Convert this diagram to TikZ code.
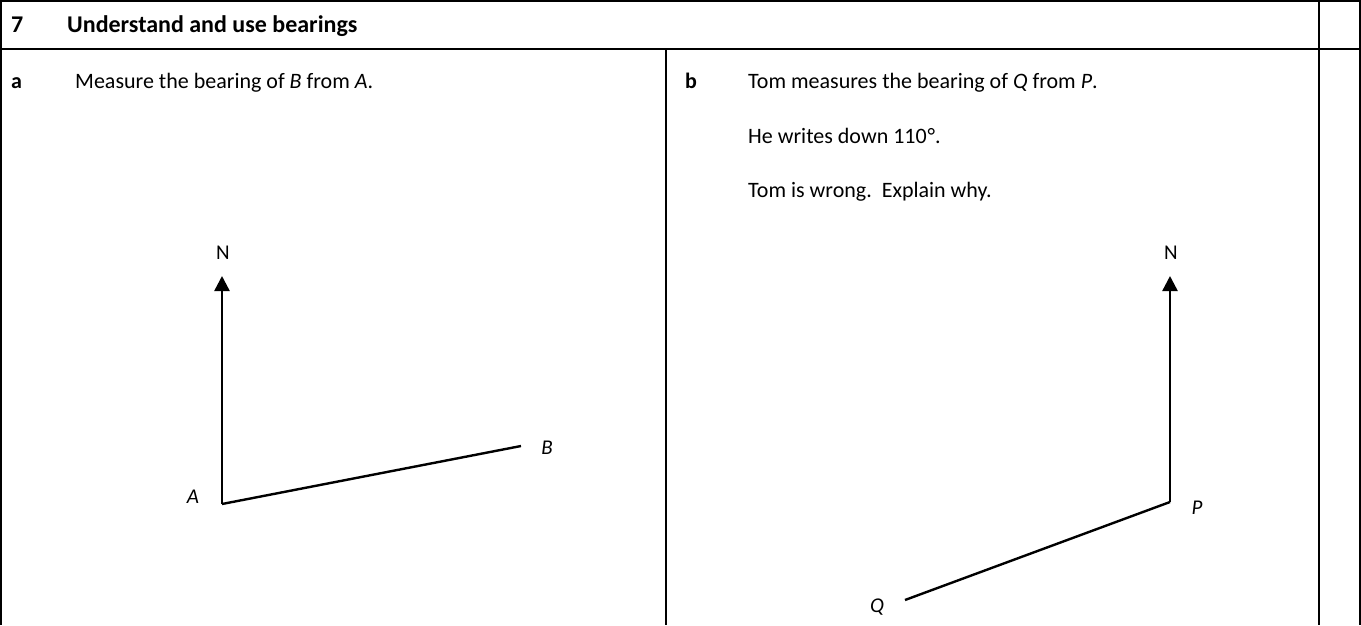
\documentclass[tikz,border=0pt]{standalone}
\usepackage{fontspec}
\setmainfont{Carlito}
\usetikzlibrary{arrows.meta}
\begin{document}
\begin{tikzpicture}[x=1pt,y=-1pt,
  txt/.style={anchor=base west,inner sep=0pt,font=\fontsize{22}{26}\selectfont},
  hdr/.style={anchor=base west,inner sep=0pt,font=\fontsize{24}{28}\selectfont\bfseries},
  lbl/.style={inner sep=0pt,font=\fontsize{21}{25}\selectfont},
  rule/.style={line width=2pt},
  leg/.style={line width=2.4pt},
  north/.style={line width=2.4pt,-{Triangle[width=15pt,length=15pt]}}]
\useasboundingbox (0,0) rectangle (1361,625);
% table rules
\coordinate (tl) at (1,1);
\coordinate (tr) at (1360,1);
\coordinate (bl) at (1,625);
\coordinate (br) at (1360,625);
\coordinate (ml) at (1,49);
\coordinate (mr) at (1360,49);
\coordinate (ct) at (666,49);
\coordinate (cb) at (666,625);
\coordinate (it) at (1319,1);
\coordinate (ib) at (1319,625);
\draw[rule] (bl) -- (tl) -- (tr) -- (br);
\draw[rule] (ml) -- (mr);
\draw[rule] (ct) -- (cb);
\draw[rule] (it) -- (ib);
% texts
\node[hdr] (n7) at (11,32) {7};
\node[hdr] (title) at (67,32) {Understand and use bearings};
\node[hdr, font=\fontsize{22}{26}\selectfont\bfseries] (la) at (11,88) {a};
\node[txt] (qa) at (75,88) {Measure the bearing of \textit{B} from \textit{A}.};
\node[hdr, font=\fontsize{22}{26}\selectfont\bfseries] (lb) at (685,88) {b};
\node[txt] (qb1) at (748,88) {Tom measures the bearing of \textit{Q} from \textit{P}.};
\node[txt] (qb2) at (748,143) {He writes down 110\kern1pt°.};
\node[txt] (qb3) at (748,197) {Tom is wrong.\ \ Explain why.};
% part a diagram
\coordinate (A) at (222,504);
\coordinate (NA) at (222,276);
\coordinate (B) at (521,446);
\node[lbl] (Nla) at (223,253) {N};
\node[lbl] (Ala) at (193,497) {\itshape A};
\node[lbl] (Bla) at (547,448) {\itshape B};
\draw[north] (A) -- (NA);
\draw[leg] (A) -- (B);
% part b diagram
\coordinate (P) at (1170,502);
\coordinate (NP) at (1170,276);
\coordinate (Q) at (905,600);
\node[lbl] (Nlb) at (1171,253) {N};
\node[lbl] (Plb) at (1197,508) {\itshape P};
\node[lbl] (Qlb) at (877,607) {\itshape Q};
\draw[north] (P) -- (NP);
\draw[leg] (P) -- (Q);
\end{tikzpicture}
\end{document}
